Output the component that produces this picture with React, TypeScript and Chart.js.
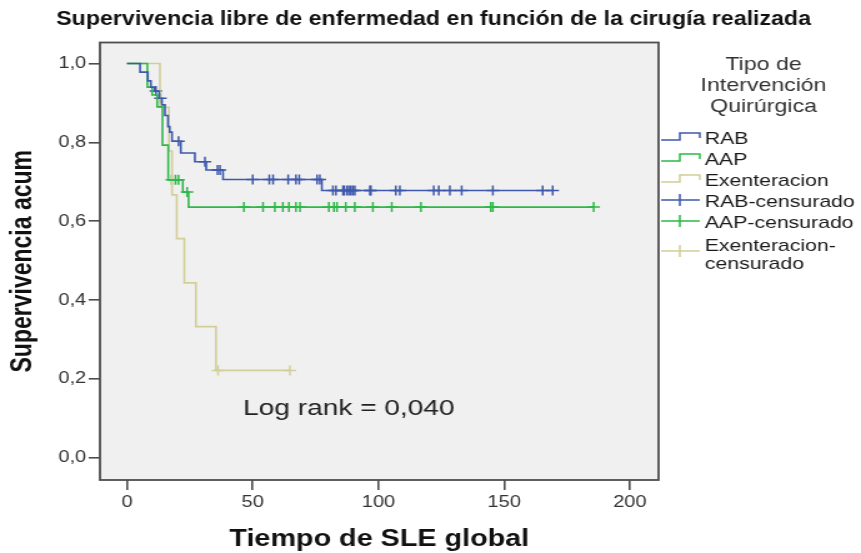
import React, { useEffect, useRef } from 'react';
import { Chart, registerables } from 'chart.js';

Chart.register(...registerables);

// ---- texts ----
const TITLE = 'Supervivencia libre de enfermedad en función de la cirugía realizada';
const X_TITLE = 'Tiempo de SLE global';
const Y_TITLE = 'Supervivencia acum';
const LEGEND_TITLE = ['Tipo de', 'Intervención', 'Quirúrgica'];
const LOG_RANK = 'Log rank = 0,040';

// ---- axes ----
const X_TICKS = [0, 50, 100, 150, 200];
const Y_TICKS = [0, 0.2, 0.4, 0.6, 0.8, 1.0];

// ---- RAB: event times / cumulative survival after each event ----
const rabTimes = [0, 5.2, 8.3, 9.5, 11.0, 12.8, 13.9, 15.1, 16.3, 17.0, 17.9, 21.4, 27.0, 31.5, 38.2, 77.5, 169.3];
const rabSurv = [1, 0.978, 0.956, 0.94, 0.93, 0.912, 0.895, 0.868, 0.84, 0.826, 0.803, 0.773, 0.751, 0.73, 0.706, 0.678, 0.678];
const rabCensored = [11.5, 13.3, 20.5, 31.0, 36.0, 37.0, 50.0, 56.6, 58.1, 64.1, 67.2, 68.5, 75.6, 76.7, 81.9, 83.1, 85.9, 86.3, 87.4, 88.2, 89.0, 89.8, 90.6, 96.6, 97.0, 106.9, 108.5, 122.0, 124.0, 128.4, 133.1, 145.5, 165.3, 169.3];

// ---- AAP ----
const aapTimes = [0, 8.1, 10.0, 12.0, 14.1, 16.4, 22.2, 24.5, 185.6];
const aapSurv = [1, 0.94, 0.92, 0.89, 0.793, 0.705, 0.674, 0.636, 0.636];
const aapCensored = [17.8, 19.3, 20.5, 23.9, 46.5, 54.1, 58.8, 62.0, 64.4, 67.2, 68.8, 80.3, 82.3, 83.5, 87.0, 90.6, 97.8, 105.3, 116.9, 144.7, 145.5, 185.6];

// ---- Exenteracion ----
const exeTimes = [0, 13.1, 16.7, 17.9, 19.8, 22.8, 27.4, 35.4, 64.8];
const exeSurv = [1, 0.889, 0.778, 0.667, 0.556, 0.444, 0.333, 0.222, 0.222];
const exeCensored = [36.2, 64.8];

const RAB_COLOR = '#3E58AC';
const AAP_COLOR = '#2EB848';
const EXE_COLOR = '#D3CE97';

const CANVAS_W = 689;
const CANVAS_H = 553;
const FONT = "'Liberation Sans', Arial, sans-serif";

const LOG_RANK_T = 46.1;
const LOG_RANK_S = 0.125;

// survival level of a step curve at time t
function stepAt(times: number[], surv: number[], t: number) {
  let v = surv[0];
  for (let i = 0; i < times.length; i++) if (times[i] <= t) v = surv[i];
  return v;
}

const curve = (times: number[], surv: number[]) => times.map((t, i) => ({ x: t, y: surv[i] }));
const marks = (times: number[], surv: number[], cens: number[]) =>
  cens.map((t) => ({ x: t, y: stepAt(times, surv, t) }));

const stepSet = (label: string, color: string, data: any[]) => ({
  label,
  data,
  borderColor: color,
  backgroundColor: color,
  borderWidth: 1.6,
  pointRadius: 0,
  stepped: 'before' as const,
  fill: false,
  tension: 0,
});

const censorSet = (label: string, color: string, data: any[]) => ({
  label,
  data,
  showLine: false,
  borderColor: color,
  backgroundColor: color,
  pointStyle: 'cross' as const,
  pointRadius: 5,
  pointBorderWidth: 1.5,
  pointBorderColor: color,
});

const plotDecor = {
  id: 'plotDecor',
  beforeDraw(chart: any) {
    const { ctx, chartArea: a, width, height } = chart;
    ctx.save();
    ctx.fillStyle = '#ffffff';
    ctx.fillRect(0, 0, width, height);
    ctx.fillStyle = '#F0F0F0';
    ctx.fillRect(a.left, a.top, a.right - a.left, a.bottom - a.top);
    ctx.restore();
  },
  afterDraw(chart: any) {
    const { ctx, chartArea: a } = chart;
    ctx.save();
    // plot frame
    ctx.strokeStyle = '#4d4d4d';
    ctx.lineWidth = 1.8;
    ctx.strokeRect(a.left, a.top, a.right - a.left, a.bottom - a.top);

    // test statistic
    ctx.fillStyle = '#222';
    ctx.font = `22.5px ${FONT}`;
    ctx.textAlign = 'left';
    ctx.textBaseline = 'middle';
    ctx.fillText(LOG_RANK, chart.scales.x.getPixelForValue(LOG_RANK_T), chart.scales.y.getPixelForValue(LOG_RANK_S));

    // legend
    const cx = 611;
    ctx.textAlign = 'center';
    ctx.fillStyle = '#333';
    ctx.font = `18.5px ${FONT}`;
    LEGEND_TITLE.forEach((line, i) => ctx.fillText(line, cx, 65 + i * 21));

    const x0 = a.right + 2;
    const xm = 544;
    const x1 = 560;
    const tx = 564;
    let y = 139;
    ctx.textAlign = 'left';
    ctx.font = `17px ${FONT}`;
    chart.data.datasets.forEach((ds: any) => {
      const color = ds.borderColor;
      const label: string = ds.label;
      const lines = label.length > 15 && label.includes('-')
        ? [label.slice(0, label.indexOf('-') + 1), label.slice(label.indexOf('-') + 1)]
        : [label];
      const iconY = lines.length > 1 ? y + 9 : y;
      ctx.strokeStyle = color;
      ctx.lineWidth = 1.5;
      ctx.beginPath();
      if (ds.stepped) {
        ctx.moveTo(x0, iconY + 1);
        ctx.lineTo(xm, iconY + 1);
        ctx.lineTo(xm, iconY - 6);
        ctx.lineTo(x1, iconY - 6);
        ctx.lineTo(x1, iconY - 1);
      } else {
        ctx.moveTo(x0, iconY - 2);
        ctx.lineTo(x1, iconY - 2);
        ctx.moveTo(xm, iconY - 8);
        ctx.lineTo(xm, iconY + 4);
      }
      ctx.stroke();
      ctx.fillStyle = '#1a1a1a';
      lines.forEach((ln, i) => ctx.fillText(ln, tx, y + 2 * (lines.length > 1 ? 1 : 0) + i * 18));
      y += lines.length > 1 ? 39 : 21;
    });
    ctx.restore();
  },
};

export default function App() {
  const ref = useRef<HTMLCanvasElement>(null);

  useEffect(() => {
    const canvas = ref.current;
    if (!canvas) return;
    const chart = new Chart(canvas, {
      type: 'line',
      data: {
        datasets: [
          stepSet('RAB', RAB_COLOR, curve(rabTimes, rabSurv)),
          stepSet('AAP', AAP_COLOR, curve(aapTimes, aapSurv)),
          stepSet('Exenteracion', EXE_COLOR, curve(exeTimes, exeSurv)),
          censorSet('RAB-censurado', RAB_COLOR, marks(rabTimes, rabSurv, rabCensored)),
          censorSet('AAP-censurado', AAP_COLOR, marks(aapTimes, aapSurv, aapCensored)),
          censorSet('Exenteracion-censurado', EXE_COLOR, marks(exeTimes, exeSurv, exeCensored)),
        ] as any,
      },
      options: {
        responsive: false,
        maintainAspectRatio: false,
        animation: false,
        devicePixelRatio: 1,
        events: [],
        // side padding also sets the title's width (the title is squeezed into it)
        layout: { padding: { left: 45, right: 40, top: 0, bottom: 0 } },
        plugins: {
          legend: { display: false },
          tooltip: { enabled: false },
          title: {
            display: true,
            text: TITLE,
            color: '#111',
            font: { family: FONT, size: 21, weight: 'bold' },
            padding: { top: 6.5, bottom: 10.8 },
          },
        },
        scales: {
          x: {
            type: 'linear',
            position: 'bottom',
            min: -10.74,
            max: 211.4,
            afterBuildTicks: (s: any) => { s.ticks = X_TICKS.map((v) => ({ value: v })); },
            afterFit: (s: any) => { s.height = 73; },
            grid: { display: true, drawOnChartArea: false, drawTicks: true, tickLength: 10, color: '#4d4d4d', lineWidth: 1.6 },
            border: { display: false },
            ticks: { color: '#333', padding: 3, font: { family: FONT, size: 16 }, maxRotation: 0 },
            title: { display: true, text: X_TITLE, color: '#111', font: { family: FONT, size: 23, weight: 'bold' }, padding: { top: 0, bottom: 0 } },
          },
          y: {
            type: 'linear',
            position: 'left',
            min: -0.0558,
            max: 1.0532,
            afterBuildTicks: (s: any) => { s.ticks = Y_TICKS.map((v) => ({ value: v })); },
            afterFit: (s: any) => { s.width = 35; },
            grid: { display: true, drawOnChartArea: false, drawTicks: true, tickLength: 9, color: '#4d4d4d', lineWidth: 1.6 },
            border: { display: false },
            ticks: {
              color: '#333',
              padding: 2,
              font: { family: FONT, size: 16 },
              callback: (v: any) => Number(v).toFixed(1).replace('.', ','),
            },
            title: { display: true, text: Y_TITLE, color: '#111', font: { family: FONT, size: 23, weight: 'bold' }, padding: { top: -40.4, bottom: 0 } },
          },
          legendSpace: {
            type: 'linear',
            position: 'right',
            display: true,
            afterFit: (s: any) => { s.width = 122; },
            grid: { display: false },
            border: { display: false },
            ticks: { display: false },
          },
        },
      } as any,
      plugins: [plotDecor],
    });
    return () => chart.destroy();
  }, []);

  return (
    <div style={{ position: 'absolute', left: 0, top: 0, width: 861, height: 553, background: '#fff' }}>
      <canvas
        ref={ref}
        width={CANVAS_W}
        height={CANVAS_H}
        style={{ width: '861px', height: '553px', display: 'block' }}
      />
    </div>
  );
}
